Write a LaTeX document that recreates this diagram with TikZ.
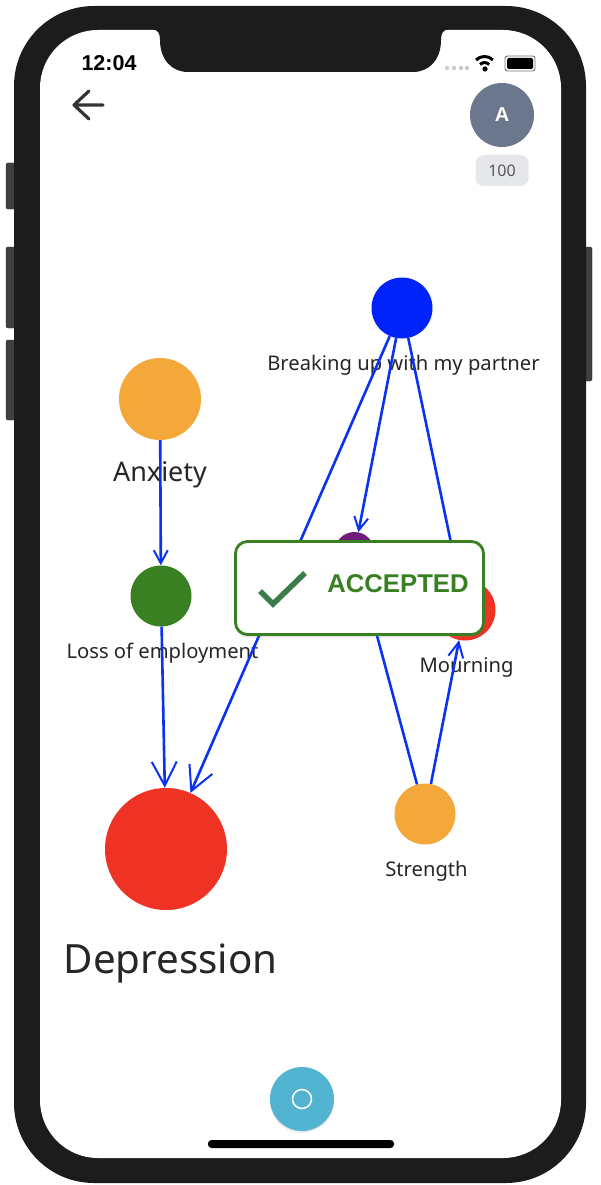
\documentclass[tikz,border=0pt]{standalone}
\usepackage{fontspec}
\setmainfont{Noto Sans}
\newfontfamily\uifont{Liberation Sans}
\usepackage{xcolor}
\usetikzlibrary{arrows.meta,positioning,shadows}
\definecolor{framedark}{RGB}{28, 28, 28}
\definecolor{edgeblue}{RGB}{10, 50, 240}
\definecolor{nodeblue}{RGB}{0, 35, 250}
\definecolor{nodeorange}{RGB}{244, 168, 58}
\definecolor{nodegreen}{RGB}{56, 128, 34}
\definecolor{nodered}{RGB}{238, 51, 36}
\definecolor{nodepurple}{RGB}{112, 26, 124}
\definecolor{avatarslate}{RGB}{107, 119, 141}
\definecolor{badgegray}{RGB}{229, 231, 235}
\definecolor{buttonblue}{RGB}{82, 180, 209}
\definecolor{tickgreen}{RGB}{58, 125, 74}

\begin{document}
\begin{tikzpicture}[x=1pt, y=-1pt, node distance=6pt,
  concept/.style={circle, draw=none, inner sep=0pt, minimum size=61pt},
  caption/.style={inner sep=0pt, xshift=1.5pt, text=black!85, font=\fontsize{20.2}{24}\selectfont},
  edge/.style={draw=edgeblue, line width=2.6pt, -{Straight Barb[length=13pt, width=14pt, line width=2pt]}},
  bigedge/.style={edge, -{Straight Barb[length=24pt, width=25pt, line width=2pt]}},
  hidden/.style={draw=edgeblue, line width=2.6pt},
  sidebtn/.style={fill=black!75, draw=black!85, rounded corners=2pt}
]
  \useasboundingbox (0,0) rectangle (600,1185);

  % Phone Frame
  \path [sidebtn] (6,163) rectangle (16,209);
  \path [sidebtn] (6,247) rectangle (16,328);
  \path [sidebtn] (6,340) rectangle (16,420);
  \path [sidebtn] (584,247) rectangle (592,381);
  \fill [framedark, rounded corners=80pt] (14,6) rectangle (586,1183);
  \fill [white, rounded corners=58pt] (40,30) rectangle (561,1158);
  \fill [framedark] (152,29) .. controls (158,30) and (160,33) .. (160,40)
    .. controls (160,60) and (172,72) .. (188,72) -- (413,72)
    .. controls (429,72) and (441,60) .. (441,40)
    .. controls (441,33) and (443,30) .. (449,29) -- cycle;

  % Status Bar
  \node (clock) at (109,63) [inner sep=0pt, text=black, font=\fontsize{21.5}{26}\selectfont\bfseries\uifont] {12:04};
  \foreach \dotx in {447,454,461,467}
    \fill [black!20] (\dotx,68) circle (2.2pt);
  \draw [black, line width=3pt] (476,60) arc[start angle=135, end angle=45, radius=12pt];
  \draw [black, line width=3pt] (480,64.5) arc[start angle=135, end angle=45, radius=6.5pt];
  \fill [black] (485,69) circle (2.6pt);
  \draw [black!55, line width=0.9pt, rounded corners=2.5pt] (505,56) rectangle (535,71);
  \fill [black, rounded corners=1.5pt] (507,58) rectangle (533,69);

  % Back Arrow
  \draw [black!80, line width=3.2pt, line cap=round, line join=round] (89,91) -- (74,105) -- (89,119) (74,105) -- (103,105);

  % Avatar
  \node (avatar) at (502,115) [circle, fill=avatarslate, inner sep=0pt, minimum size=64pt, text=white, font=\fontsize{20}{24}\selectfont\bfseries\uifont] {A};
  \node (score) at (502,170.5) [fill=badgegray, rounded corners=8pt, minimum width=53pt, minimum height=31pt, inner sep=0pt, text=black!65, font=\fontsize{16}{20}\selectfont] {100};

  % Concept Nodes
  \node [concept, fill=nodeblue] (breaking) at (402,308) {};
  \node [concept, fill=nodeorange, minimum size=82pt] (anxiety) at (160,399) {};
  \node [concept, fill=nodegreen] (loss) at (161,596) {};
  \node [concept, fill=nodered, minimum size=122pt] (depression) at (166,849) {};
  \node [concept, fill=nodepurple, minimum size=40pt] (purple) at (354.5,552) {};
  \node [concept, fill=nodered] (mourning) at (465,610) {};
  \node [concept, fill=nodeorange] (strength) at (425,814) {};

  % Captions
  \node [caption, below=16pt of breaking] {Breaking up with my partner};
  \node [caption, xshift=-1.5pt, below=21pt of anxiety, font=\fontsize{27}{32}\selectfont] {Anxiety};
  \node [caption, below=16pt of loss] {Loss of employment};
  \node [caption, below=17pt of mourning] {Mourning};
  \node [caption, below=16pt of strength] {Strength};
  \node [caption, below=33pt of depression, xshift=3pt, font=\fontsize{40.3}{48}\selectfont] {Depression};

  % Edges
  \draw [edge] (anxiety) -- (loss);
  \draw [bigedge] (loss) -- (depression);
  \draw [bigedge] (breaking) -- (depression);
  \draw [edge] (breaking) -- (purple);
  \draw [hidden] (breaking) -- (mourning);
  \draw [hidden] (strength) -- (purple);
  \draw [edge, -{Straight Barb[length=15pt, width=15pt, line width=2pt]}] (strength) -- (mourning);

  % Accepted Toast
  \node (toast) at (359.5,588) [fill=white, draw=nodegreen, line width=2.8pt, rounded corners=12pt, minimum width=248pt, minimum height=93pt, drop shadow={opacity=0.18, shadow xshift=0pt, shadow yshift=-3pt}] {};
  \node (accepted) at (398,584) [inner sep=0pt, text=nodegreen, font=\fontsize{25.7}{30}\selectfont\bfseries\uifont] {ACCEPTED};
  \draw [tickgreen, line width=5.5pt] (260,591) -- (273,604) -- (305,573);

  % Record Button
  \node (record) at (302,1099) [circle, fill=buttonblue, inner sep=0pt, minimum size=64pt, drop shadow={opacity=0.15, shadow xshift=0pt, shadow yshift=-2pt}] {};
  \node (recordring) at (record) [circle, draw=white, line width=1.5pt, fill=none, inner sep=0pt, minimum size=19pt] {};
  \fill [black, rounded corners=3.5pt] (208,1140) rectangle (394,1148);

\end{tikzpicture}
\end{document}
